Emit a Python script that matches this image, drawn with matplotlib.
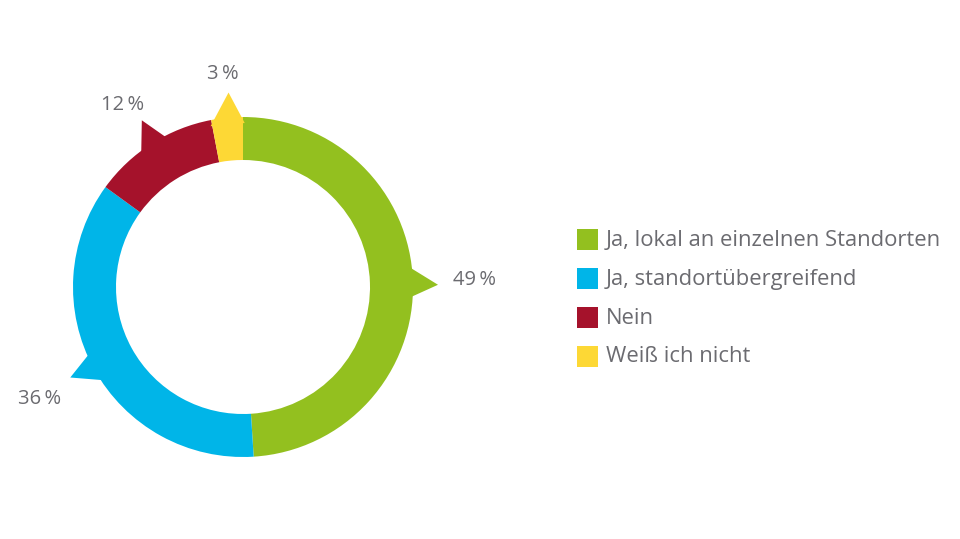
import numpy as np
import matplotlib.pyplot as plt
from matplotlib.patches import Polygon, Rectangle

plt.rcParams['font.family'] = ['Open Sans', 'DejaVu Sans']

# Daten
kategorien = ['Ja, lokal an einzelnen Standorten', 'Ja, standortübergreifend', 'Nein', 'Weiß ich nicht']
werte = [49, 36, 12, 3]
beschriftung = ['49\u2009%', '36\u2009%', '12\u2009%', '3\u2009%']
farben = ['#93c01f', '#00b5e8', '#a5122b', '#fdd835']
textfarbe = '#6b6b70'

fig = plt.figure(figsize=(9.6, 5.39), dpi=100)
ax = fig.add_axes([0, 0, 1, 1])

# Ring (in Pixelkoordinaten)
cx, cy = 243, 539 - 287
r_aussen = 170
breite = 43
ax.pie(werte, colors=farben, startangle=90, counterclock=False,
       radius=r_aussen, center=(cx, cy),
       wedgeprops=dict(width=breite, linewidth=0))

# Zeiger und Prozentwerte
kum = np.cumsum(werte) - np.array(werte) / 2
for i, m in enumerate(kum):
    winkel = np.deg2rad(90 - m / 100 * 360)
    d = np.deg2rad(6)
    p1 = (cx + (r_aussen - 6) * np.cos(winkel + d), cy + (r_aussen - 6) * np.sin(winkel + d))
    p2 = (cx + (r_aussen - 6) * np.cos(winkel - d), cy + (r_aussen - 6) * np.sin(winkel - d))
    tip = (cx + (r_aussen + 25) * np.cos(winkel - 0.02), cy + (r_aussen + 25) * np.sin(winkel - 0.02))
    ax.add_patch(Polygon([p1, tip, p2], closed=True, facecolor=farben[i], edgecolor='none'))

    lr = r_aussen + 62
    lx = cx + lr * np.cos(winkel)
    ly = cy + lr * np.sin(winkel)
    if i == 3:
        lx, ly = cx - 20, 539 - 74
    elif i == 2:
        lx, ly = 123, 539 - 105
    ax.text(lx, ly, beschriftung[i], color=textfarbe, fontsize=14.5,
            ha='center', va='center')

# Legende
for i, (k, f) in enumerate(zip(kategorien, farben)):
    y = 539 - (240 + i * 39)
    ax.add_patch(Rectangle((577, y - 10), 21, 21, facecolor=f, edgecolor='none'))
    ax.text(606, y, k, color=textfarbe, fontsize=15.8, ha='left', va='center')

ax.set_xlim(0, 960)
ax.set_ylim(0, 539)
ax.set_aspect('equal')
ax.axis('off')

fig.savefig('out.png', dpi=100)
